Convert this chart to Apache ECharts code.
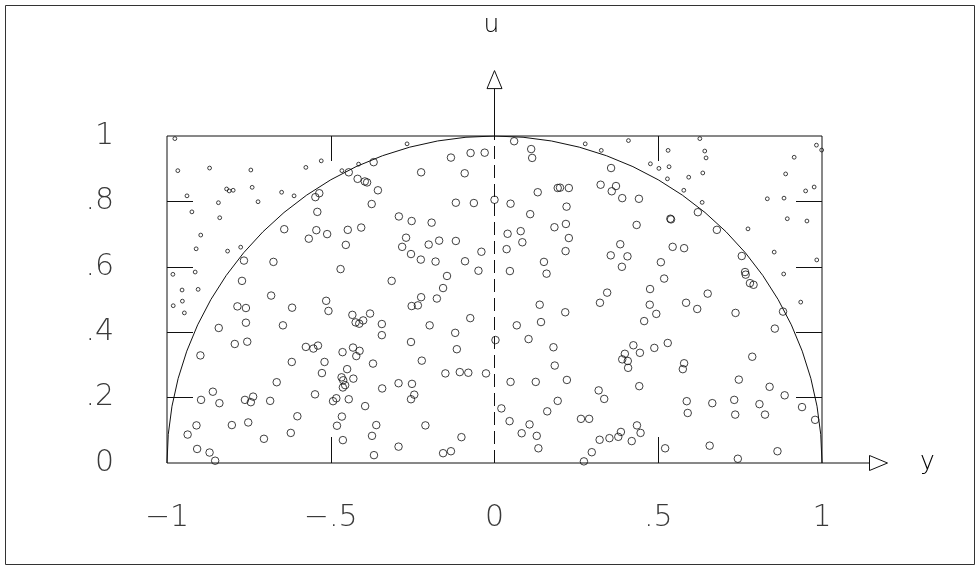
<!DOCTYPE html>
<html>
<head>
<meta charset="utf-8">
<script src="https://cdn.jsdelivr.net/npm/echarts@6/dist/echarts.min.js"></script>
<style>
html,body{margin:0;padding:0;background:#fff;}
#chart{width:979px;height:569px;}
</style>
</head>
<body>
<div id="chart"></div>
<script>
// ---- data: points (y, u) inside the half-disc (large rings) ----
const insidePoints = [
[-0.547,0.813],[-0.535,0.825],[-0.541,0.768],[-0.642,0.715],[-0.544,0.712],[-0.567,0.686],[-0.511,0.700],
[-0.765,0.619],[-0.675,0.615],[-0.771,0.557],[-0.682,0.512],[-0.898,0.329],[-0.896,0.193],[-0.910,0.115],
[-0.937,0.087],[-0.908,0.043],[-0.870,0.032],[-0.853,0.007],[-0.785,0.479],[-0.759,0.474],[-0.618,0.475],
[-0.514,0.496],[-0.507,0.465],[-0.842,0.413],[-0.759,0.429],[-0.646,0.421],[-0.793,0.364],[-0.755,0.371],
[-0.576,0.355],[-0.553,0.350],[-0.539,0.359],[-0.619,0.309],[-0.519,0.309],[-0.527,0.275],[-0.665,0.247],
[-0.860,0.218],[-0.840,0.183],[-0.762,0.193],[-0.744,0.186],[-0.737,0.203],[-0.685,0.190],[-0.548,0.210],
[-0.602,0.143],[-0.802,0.116],[-0.752,0.124],[-0.622,0.092],[-0.704,0.074],
[-0.369,0.920],[-0.445,0.889],[-0.418,0.869],[-0.396,0.861],[-0.389,0.858],[-0.356,0.834],[-0.375,0.792],
[-0.224,0.889],[-0.133,0.934],[-0.073,0.948],[-0.030,0.949],[-0.091,0.886],[-0.118,0.796],[-0.063,0.795],
[0.000,0.805],[-0.292,0.754],[-0.253,0.740],[-0.192,0.735],[-0.448,0.713],[-0.407,0.720],[-0.454,0.667],
[-0.270,0.689],[-0.282,0.661],[-0.255,0.639],[-0.201,0.668],[-0.169,0.680],[-0.118,0.679],[-0.225,0.622],
[-0.180,0.616],[-0.090,0.617],[-0.040,0.646],[-0.049,0.588],[-0.470,0.593],[-0.314,0.557],[-0.145,0.572],
[-0.157,0.535],[-0.224,0.507],[-0.176,0.503],
[-0.253,0.480],[-0.234,0.482],[-0.434,0.453],[-0.424,0.430],[-0.413,0.426],[-0.401,0.436],[-0.380,0.457],
[-0.344,0.425],[-0.344,0.391],[-0.255,0.370],[-0.198,0.421],[-0.074,0.443],[-0.120,0.398],[-0.115,0.348],
[0.003,0.376],[-0.464,0.339],[-0.432,0.353],[-0.412,0.343],[-0.422,0.327],[-0.371,0.304],[-0.222,0.313],
[-0.450,0.287],[-0.467,0.262],[-0.462,0.253],[-0.463,0.231],[-0.456,0.238],[-0.431,0.258],[-0.150,0.274],
[-0.106,0.278],[-0.080,0.276],[-0.026,0.274],[-0.293,0.244],[-0.252,0.242],[-0.343,0.228],[-0.245,0.209],
[-0.255,0.195],[-0.493,0.189],[-0.483,0.198],[-0.445,0.195],[-0.395,0.174],[-0.466,0.142],[-0.481,0.114],
[-0.361,0.116],[-0.211,0.115],[-0.463,0.070],[-0.374,0.083],[-0.293,0.050],[-0.368,0.024],[-0.101,0.079],
[-0.157,0.030],[-0.133,0.036],
[0.060,0.984],[0.112,0.960],[0.115,0.933],[0.356,0.902],[0.049,0.793],[0.132,0.828],[0.193,0.841],
[0.200,0.842],[0.227,0.841],[0.324,0.851],[0.371,0.847],[0.358,0.831],[0.390,0.810],[0.441,0.808],
[0.220,0.784],[0.109,0.761],[0.218,0.731],[0.183,0.721],[0.434,0.728],[0.040,0.701],[0.080,0.709],
[0.085,0.675],[0.037,0.654],[0.227,0.688],[0.217,0.648],[0.384,0.669],[0.355,0.635],[0.406,0.632],
[0.389,0.600],[0.151,0.615],[0.159,0.579],[0.047,0.587],[0.508,0.614],[0.344,0.521],[0.475,0.532],
[0.138,0.484],[0.216,0.461],[0.322,0.490],[0.474,0.484],[0.494,0.456],[0.457,0.434],[0.068,0.421],
[0.142,0.431],[0.104,0.379],[0.180,0.354],[0.424,0.360],[0.444,0.337],[0.488,0.352],[0.398,0.334],
[0.390,0.317],[0.407,0.312],[0.408,0.291],[0.184,0.298],[0.049,0.248],[0.126,0.248],[0.221,0.254],
[0.442,0.235],[0.318,0.222],[0.335,0.196],[0.193,0.190],[0.021,0.167],[0.046,0.128],[0.161,0.158],
[0.107,0.118],[0.264,0.135],[0.289,0.135],[0.083,0.091],[0.129,0.083],[0.134,0.045],[0.435,0.115],
[0.446,0.092],[0.386,0.095],[0.378,0.080],[0.321,0.071],[0.351,0.076],[0.419,0.067],[0.297,0.033],
[0.273,0.005],
[0.621,0.767],[0.537,0.747],[0.539,0.745],[0.679,0.713],[0.544,0.661],[0.579,0.657],[0.755,0.633],
[0.518,0.564],[0.765,0.584],[0.767,0.576],[0.780,0.550],[0.791,0.545],[0.651,0.518],[0.585,0.490],
[0.619,0.471],[0.736,0.459],[0.881,0.463],[0.856,0.411],[0.529,0.367],[0.579,0.305],[0.575,0.287],
[0.787,0.325],[0.746,0.255],[0.840,0.233],[0.886,0.207],[0.587,0.189],[0.590,0.153],[0.665,0.183],
[0.732,0.193],[0.735,0.148],[0.809,0.180],[0.826,0.148],[0.939,0.171],[0.979,0.132],[0.521,0.045],
[0.657,0.053],[0.743,0.013],[0.864,0.036]
];
// ---- data: points (y, u) outside the half-disc (small rings) ----
const outsidePoints = [
[-0.976,0.992],[-0.967,0.894],[-0.870,0.902],[-0.744,0.896],[-0.576,0.904],[-0.529,0.924],[-0.818,0.838],
[-0.810,0.832],[-0.798,0.834],[-0.740,0.843],[-0.650,0.828],[-0.612,0.817],[-0.939,0.817],[-0.924,0.768],
[-0.843,0.796],[-0.722,0.799],[-0.839,0.750],[-0.897,0.697],[-0.911,0.655],[-0.815,0.648],[-0.775,0.660],
[-0.982,0.577],[-0.914,0.584],[-0.954,0.529],[-0.905,0.531],[-0.981,0.481],[-0.953,0.495],[-0.947,0.459],
[-0.267,0.976],[-0.466,0.894],[-0.415,0.914],[0.277,0.976],[0.326,0.956],[0.409,0.986],[0.476,0.915],
[0.502,0.901],[0.627,0.992],[0.530,0.956],[0.642,0.954],[0.646,0.933],[0.533,0.906],[0.528,0.869],
[0.593,0.874],[0.636,0.887],[0.578,0.834],[0.634,0.797],[0.915,0.935],[0.983,0.972],[0.999,0.957],
[0.889,0.884],[0.833,0.808],[0.884,0.810],[0.950,0.832],[0.976,0.844],[0.894,0.747],[0.954,0.740],
[0.774,0.716],[0.854,0.645],[0.984,0.621],[0.883,0.578],[0.935,0.492]
];
const xTicks = [-1, -0.5, 0, 0.5, 1];
const uTicks = [0, 0.2, 0.4, 0.6, 0.8, 1];
const xTickMarks = [-0.5, 0.5];
const uTickMarks = [0.2, 0.4, 0.6, 0.8];
const centerLine = [[0, 0], [0, 1]];
const arrowTip = 1.2;     // axis arrows reach 1.2 units from the origin
const xName = 'y', uName = 'u';

// boundary u = sqrt(1 - y^2), drawn as a polygon of the unit half circle
const boundary = [];
for (let a = 180; a >= 0; a -= 5) {
  const r = a * Math.PI / 180;
  boundary.push([Math.cos(r), Math.sin(r)]);
}

function fmt(v) {
  v = Math.round(v * 10) / 10;
  if (v === 0) return '0';
  const s = String(Math.abs(v)).replace(/^0/, '');
  return (v < 0 ? '\u2212' : '') + s;
}

const lblFont = { fontFamily: 'DejaVu Sans', fontWeight: 200, fontSize: 30, color: '#3a3a3a' };
const nameFont = { fontFamily: 'DejaVu Sans', fontWeight: 200, fontSize: 25, color: '#3a3a3a' };
const ink = '#111';

const chart = echarts.init(document.getElementById('chart'), null, { renderer: 'canvas' });
chart.setOption({
  animation: false,
  backgroundColor: '#fff',
  grid: { left: 167, right: 157, top: 136, bottom: 106, show: true, borderColor: ink, borderWidth: 1, backgroundColor: 'transparent' },
  xAxis: [{
    type: 'value', min: -1, max: 1, interval: 0.5, position: 'bottom',
    axisLine: { show: false, onZero: false },
    axisTick: { show: true, inside: true, length: 26, customValues: xTickMarks, lineStyle: { color: ink } },
    axisLabel: Object.assign({ margin: 40, formatter: fmt, customValues: xTicks, showMinLabel: true, showMaxLabel: true }, lblFont),
    splitLine: { show: false }
  }, {
    type: 'value', min: -1, max: 1, interval: 0.5, position: 'top',
    axisLine: { show: false, onZero: false },
    axisTick: { show: true, inside: true, length: 25, customValues: xTickMarks, lineStyle: { color: ink } },
    axisLabel: { show: false }, splitLine: { show: false }
  }],
  yAxis: [{
    type: 'value', min: 0, max: 1, interval: 0.2, position: 'left',
    axisLine: { show: false, onZero: false },
    axisTick: { show: true, inside: true, length: 26, customValues: uTickMarks, lineStyle: { color: ink } },
    axisLabel: Object.assign({ margin: 53, formatter: fmt, customValues: uTicks, showMinLabel: true, showMaxLabel: true }, lblFont),
    splitLine: { show: false }
  }, {
    type: 'value', min: 0, max: 1, interval: 0.2, position: 'right',
    axisLine: { show: false, onZero: false },
    axisTick: { show: true, inside: true, length: 26, customValues: uTickMarks, lineStyle: { color: ink } },
    axisLabel: { show: false }, splitLine: { show: false }
  }],
  series: [
    {
      type: 'line', data: boundary, symbol: 'none', silent: true,
      lineStyle: { color: ink, width: 1 }, z: 2
    },
    {
      type: 'line', data: centerLine, symbol: 'none', silent: true,
      lineStyle: { color: ink, width: 1, type: [13, 6] }, z: 2
    },
    {
      type: 'scatter', data: insidePoints, symbol: 'circle', symbolSize: 7.5, silent: true,
      itemStyle: { color: 'rgba(0,0,0,0)', borderColor: ink, borderWidth: 1 }, z: 3
    },
    {
      type: 'scatter', data: outsidePoints, symbol: 'circle', symbolSize: 3.8, silent: true,
      itemStyle: { color: 'rgba(0,0,0,0)', borderColor: ink, borderWidth: 1 }, z: 3
    }
  ]
});

// axis arrows, axis names and outer frame, placed from the chart's own scales
const conv = v => chart.convertToPixel({ xAxisIndex: 0, yAxisIndex: 0 }, v);
const top1 = conv([0, 1]), upTip = conv([0, arrowTip]);
const right1 = conv([1, 0]), rTip = conv([arrowTip, 0]);
const L = 18, W = 7.5;
chart.setOption({
  graphic: [
    { type: 'rect', silent: true, z: -1, shape: { x: 5.5, y: 5.5, width: 969, height: 559 }, style: { fill: 'none', stroke: '#333', lineWidth: 1 } },
    { type: 'line', silent: true, shape: { x1: top1[0], y1: top1[1], x2: upTip[0], y2: upTip[1] + L }, style: { stroke: ink, lineWidth: 1 } },
    { type: 'polygon', silent: true, shape: { points: [[upTip[0], upTip[1]], [upTip[0] - W, upTip[1] + L], [upTip[0] + W, upTip[1] + L]] }, style: { fill: '#fff', stroke: ink, lineWidth: 1 } },
    { type: 'line', silent: true, shape: { x1: right1[0], y1: right1[1], x2: rTip[0] - L, y2: rTip[1] }, style: { stroke: ink, lineWidth: 1 } },
    { type: 'polygon', silent: true, shape: { points: [[rTip[0], rTip[1]], [rTip[0] - L, rTip[1] - W], [rTip[0] - L, rTip[1] + W]] }, style: { fill: '#fff', stroke: ink, lineWidth: 1 } },
    { type: 'text', silent: true, x: upTip[0] - 3, y: upTip[1] - 45, style: Object.assign({ text: uName, align: 'center', verticalAlign: 'middle' }, nameFont) },
    { type: 'text', silent: true, x: rTip[0] + 40, y: rTip[1] - 1, style: Object.assign({ text: xName, align: 'center', verticalAlign: 'middle' }, nameFont) }
  ]
});
</script>
</body>
</html>
